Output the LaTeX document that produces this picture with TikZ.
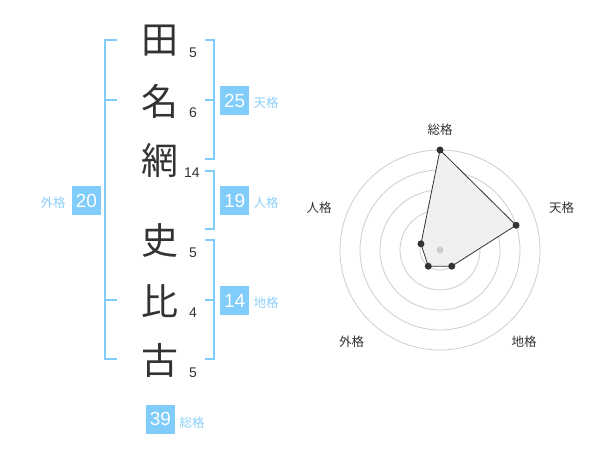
\documentclass[tikz,border=0pt]{standalone}
\usepackage{fontspec}
\setmainfont{Liberation Sans}
\newfontfamily\cjk{Noto Sans CJK JP}
\definecolor{kblue}{RGB}{128,204,250}
\definecolor{klabel}{RGB}{140,208,248}
\definecolor{kdark}{RGB}{51,51,51}
\definecolor{kring}{RGB}{205,205,205}
\definecolor{kfill}{RGB}{240,240,240}
\begin{document}
\begin{tikzpicture}[x=1pt,y=-1pt,
  kanji/.style={font=\cjk\fontsize{37}{37}\selectfont, text=kdark, inner sep=0pt},
  strokes/.style={font=\fontsize{14}{14}\selectfont, text=kdark, inner sep=0pt},
  numbox/.style={fill=kblue, text=white, font=\fontsize{19}{19}\selectfont, minimum width=29pt, minimum height=29pt, inner sep=0pt},
  kakulabel/.style={font=\cjk\fontsize{12.5}{12.5}\selectfont, text=klabel, inner sep=0pt},
  bracket/.style={draw=kblue, line width=2pt},
  ring/.style={draw=kring, line width=0.8pt},
  radarlabel/.style={font=\cjk\fontsize{12.5}{12.5}\selectfont, text=kdark, inner sep=0pt},
  dot/.style={circle, fill=kdark, inner sep=0pt, minimum size=7pt}
]
\useasboundingbox (0,0) rectangle (600,470);
% kanji
\node[kanji] (k1) at (160,41) {田};
\node[kanji] (k2) at (160,101) {名};
\node[kanji] (k3) at (160,160) {網};
\node[kanji] (k4) at (160,241) {史};
\node[kanji] (k5) at (160,301) {比};
\node[kanji] (k6) at (160,360) {古};
% stroke numbers
\node[strokes] (s1) at (193,53) {5};
\node[strokes] (s2) at (193,113) {6};
\node[strokes] (s3) at (192,173) {14};
\node[strokes] (s4) at (193,253) {5};
\node[strokes] (s5) at (193,313) {4};
\node[strokes] (s6) at (193,373) {5};
% brackets
\draw[bracket] (117,40) -- (105,40) -- (105,359) -- (117,359);
\draw[bracket] (105,100) -- (117,100);
\draw[bracket] (105,300) -- (117,300);
\draw[bracket] (205,40) -- (214,40) -- (214,159) -- (205,159);
\draw[bracket] (205,100) -- (214,100);
\draw[bracket] (205,171) -- (214,171) -- (214,229) -- (205,229);
\draw[bracket] (205,240) -- (214,240) -- (214,359) -- (205,359);
\draw[bracket] (205,300) -- (214,300);
% boxes and labels
\node[numbox] (b20) at (86.5,201) {20};
\node[kakulabel] (l20) at (53,203) {外格};
\node[numbox] (b25) at (234.7,100.5) {25};
\node[kakulabel] (l25) at (266,103) {天格};
\node[numbox] (b19) at (234.7,200.5) {19};
\node[kakulabel] (l19) at (266,203) {人格};
\node[numbox] (b14) at (234.7,300.5) {14};
\node[kakulabel] (l14) at (266,303) {地格};
\node[numbox] (b39) at (160.5,419) {39};
\node[kakulabel] (l39) at (192,423) {総格};
% radar
\begin{scope}[shift={(440,250)}, y=1pt]
  \foreach \r in {20,40,60,80,100} \draw[ring] (0,0) circle (\r pt);
  \coordinate (p1) at (90:100pt);
  \coordinate (p2) at (18:80pt);
  \coordinate (p3) at (-54:20pt);
  \coordinate (p4) at (-126:20pt);
  \coordinate (p5) at (162:20pt);
  \filldraw[fill=kfill, draw=kdark, line width=0.8pt] (p1) -- (p2) -- (p3) -- (p4) -- (p5) -- cycle;
  \fill[kring] (0,0) circle (3.5pt);
  \foreach \p in {p1,p2,p3,p4,p5} \node[dot] at (\p) {};
\end{scope}
\node[radarlabel] (r1) at (440,130) {総格};
\node[radarlabel] (r2) at (561.7,208) {天格};
\node[radarlabel] (r3) at (524,341.7) {地格};
\node[radarlabel] (r4) at (351.7,341.7) {外格};
\node[radarlabel] (r5) at (319,208) {人格};
\end{tikzpicture}
\end{document}
